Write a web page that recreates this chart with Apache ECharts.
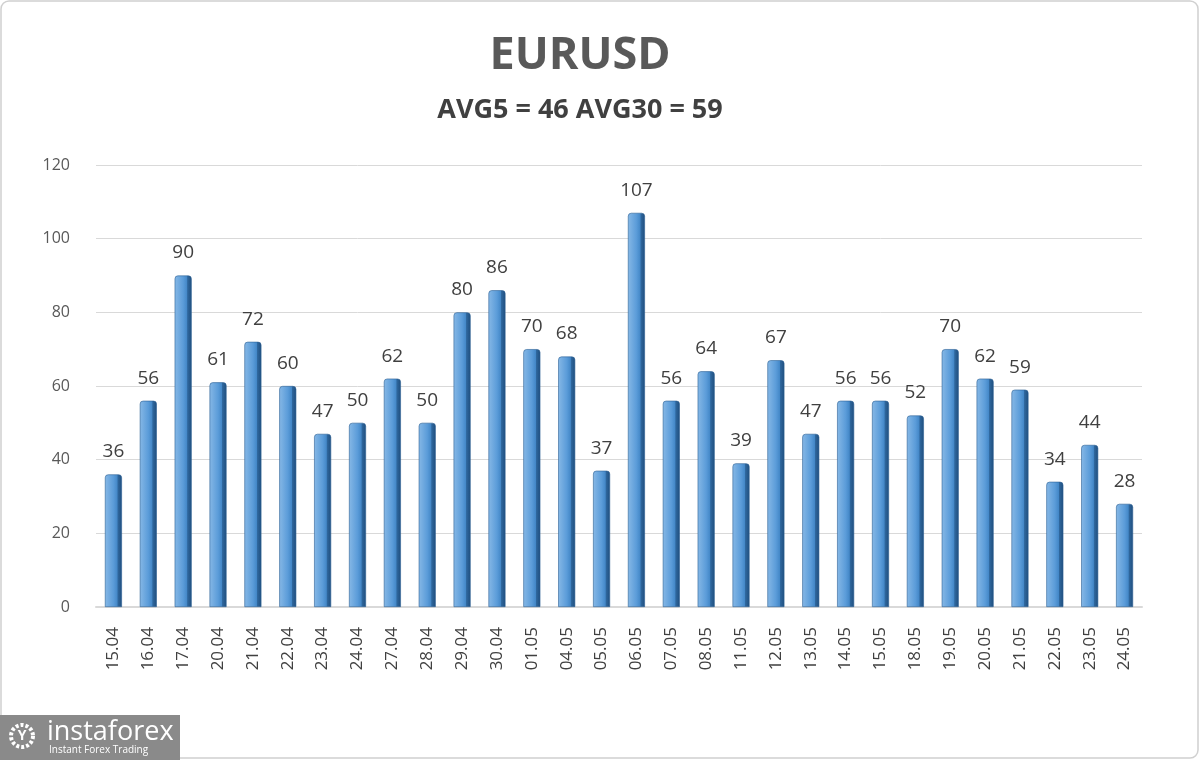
<!DOCTYPE html>
<html>
<head>
    <meta charset="utf-8">
    <title>EURUSD</title>
    <script src="https://cdn.jsdelivr.net/npm/echarts@6/dist/echarts.min.js"></script>
    <style>
        body { margin: 0; background: #fff; }
        #main { width: 1200px; height: 760px; }
    </style>
</head>
<body>
    <div id="main"></div>
    <script type="text/javascript">
        // dates and daily volatility in points
        var days = ['15.04', '16.04', '17.04', '20.04', '21.04', '22.04', '23.04', '24.04', '27.04', '28.04',
            '29.04', '30.04', '01.05', '04.05', '05.05', '06.05', '07.05', '08.05', '11.05', '12.05',
            '13.05', '14.05', '15.05', '18.05', '19.05', '20.05', '21.05', '22.05', '23.05', '24.05'];
        var values = [36, 56, 90, 61, 72, 60, 47, 50, 62, 50,
            80, 86, 70, 68, 37, 107, 56, 64, 39, 67,
            47, 56, 56, 52, 70, 62, 59, 34, 44, 28];
        var yTicks = [0, 20, 40, 60, 80, 100, 120];

        var myChart = echarts.init(document.getElementById('main'));

        var barColor = new echarts.graphic.LinearGradient(0, 0, 1, 0, [
            { offset: 0, color: '#86b8e6' },
            { offset: 0.5, color: '#5b9cd9' },
            { offset: 0.72, color: '#4488c8' },
            { offset: 0.76, color: '#2f689f' },
            { offset: 1, color: '#1f4d7c' }
        ]);

        myChart.setOption({
            backgroundColor: '#fff',
            grid: { left: 96, right: 58, top: 165, bottom: 153 },
            xAxis: {
                type: 'category',
                data: days,
                axisLine: { lineStyle: { color: '#d9d9d9', width: 2 } },
                axisTick: { show: false },
                axisLabel: {
                    rotate: 90,
                    margin: 20,
                    fontFamily: 'Open Sans',
                    fontSize: 17,
                    color: '#404040'
                }
            },
            yAxis: {
                type: 'value',
                min: yTicks[0],
                max: yTicks[yTicks.length - 1],
                interval: 20,
                axisLine: { show: false },
                axisTick: { show: false },
                axisLabel: { margin: 26, fontFamily: 'Open Sans', fontSize: 16, color: '#595959' },
                splitLine: { lineStyle: { color: '#d9d9d9', width: 1 } }
            },
            series: [{
                type: 'bar',
                data: values,
                barWidth: 17,
                itemStyle: {
                    color: barColor,
                    borderColor: '#2b5f94',
                    borderWidth: 0.6,
                    borderRadius: [3, 3, 0, 0]
                },
                label: {
                    show: true,
                    position: 'top',
                    distance: 13,
                    fontFamily: 'Open Sans',
                    fontSize: 19,
                    color: '#404040'
                }
            }],
            graphic: [{
                type: 'text',
                style: { x: 580, y: 34, text: 'EURUSD', fill: '#595959', font: 'bold 45px "Open Sans"', align: 'center', verticalAlign: 'top' }
            }, {
                type: 'text',
                style: { x: 580, y: 97, text: 'AVG5 = 46 AVG30 = 59', fill: '#404040', font: 'bold 27px "Open Sans"', align: 'center', verticalAlign: 'top' }
            }, {
                type: 'rect',
                shape: { x: 1, y: 1, width: 1197, height: 757, r: 8 },
                style: { fill: 'none', stroke: '#d0d0d0', lineWidth: 1.5 },
                silent: true
            }, {
                type: 'group',
                left: 0,
                top: 715,
                children: [{
                    type: 'rect',
                    shape: { x: 0, y: 0, width: 180, height: 45 },
                    style: { fill: '#8a8a8a' }
                }, {
                    type: 'circle',
                    shape: { cx: 22, cy: 21, r: 11 },
                    style: { fill: 'none', stroke: '#fff', lineWidth: 4, lineDash: [3, 2] }
                }, {
                    type: 'text',
                    style: { x: 22, y: 21, text: 'Y', fill: '#fff', font: 'bold 14px "Open Sans"', align: 'center', verticalAlign: 'middle' }
                }, {
                    type: 'text',
                    style: { x: 47, y: 4, text: 'instaforex', fill: '#fff', font: '27px "Open Sans"' }
                }, {
                    type: 'text',
                    style: { x: 49, y: 30, text: 'Instant Forex Trading', fill: '#fff', font: '10px "Open Sans"' }
                }]
            }]
        });
    </script>
</body>
</html>
